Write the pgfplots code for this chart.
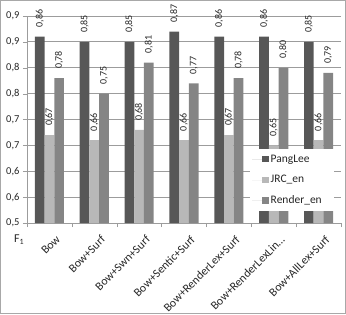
\documentclass[border=0pt]{standalone}
\usepackage{pgfplots}
\pgfplotsset{compat=1.18}
\usepackage{fontspec}
\setmainfont{Carlito}

\definecolor{pang}{HTML}{575757}
\definecolor{jrc}{HTML}{B8B8B8}
\definecolor{rend}{HTML}{858585}
\definecolor{gridc}{HTML}{9C9C9C}
\definecolor{framec}{HTML}{A8A8A8}
\definecolor{txt}{HTML}{262626}

\begin{document}
\begin{tikzpicture}[x=1pt,y=1pt]
\useasboundingbox (0,0) rectangle (346,314);
\draw[framec, line width=1pt] (0.5,0.5) rectangle (345.5,313.5);
\begin{axis}[
  at={(27pt,91pt)}, anchor=south west,
  scale only axis, width=314pt, height=207pt,
  ymin=0.5, ymax=0.9, xmin=-0.5, xmax=6.5,
  ybar=0pt, bar width=9.7pt,
  /pgf/number format/assume math mode=true,
  axis line style={gridc},
  axis x line*=bottom, axis y line*=left,
  ytick={0.5,0.55,0.6,0.65,0.7,0.75,0.8,0.85,0.9},
  yticklabels={{0,5},{0,6},{0,6},{0,7},{0,7},{0,8},{0,8},{0,9},{0,9}},
  ymajorgrids, grid style={gridc, line width=0.8pt},
  xtick={0,1,2,3,4,5,6},
  xticklabels={{Bow}, {Bow+Surf}, {Bow+Swn+Surf}, {Bow+Sentic+Surf}, {Bow+RenderLex+Surf}, {Bow+RenderLexLin…}, {Bow+AllLex+Surf}},
  minor xtick={-0.5,0.5,1.5,2.5,3.5,4.5,5.5,6.5},
  major x tick style={draw=none},
  minor x tick style={gridc},
  y tick style={gridc},
  tick align=outside,
  major tick length=4pt, minor tick length=4pt,
  xticklabel style={rotate=45, anchor=north east, inner sep=0pt, font=\fontsize{11.8}{14}\selectfont, text=txt, yshift=-9.5pt, xshift=-1pt},
  yticklabel style={font=\fontsize{10.5}{12}\selectfont, text=txt},
  nodes near coords={\pgfmathprintnumber[fixed, precision=2, fixed zerofill, use comma]{\pgfplotspointmeta}},
  every node near coord/.append style={yshift=9pt, rotate=90, anchor=west, inner sep=0pt, font=\fontsize{10}{12}\selectfont, text=txt},
  legend style={at={(0.7102,0.3575)}, anchor=north west, draw=none, fill=white,
    font=\fontsize{11.5}{13}\selectfont, text=txt,
    inner xsep=2pt, inner ysep=3pt, row sep=6.2pt, column sep=0pt,
    nodes={inner sep=2pt, text height=8pt, text depth=2.5pt}},
  legend cell align=left,
  legend image code/.code={\path (0pt,0pt) -- (16.5pt,0pt);
    \fill[#1] (10pt,-3pt) rectangle (16.5pt,3.5pt);},
  clip=false,
]
\addplot[fill=pang, draw=none] coordinates {(0,0.86) (1,0.85) (2,0.85) (3,0.87) (4,0.86) (5,0.86) (6,0.85)};
\addplot[fill=jrc, draw=none] coordinates {(0,0.67) (1,0.66) (2,0.68) (3,0.66) (4,0.67) (5,0.65) (6,0.66)};
\addplot[fill=rend, draw=none] coordinates {(0,0.78) (1,0.75) (2,0.81) (3,0.77) (4,0.78) (5,0.80) (6,0.79)};
\legend{\makebox[59.5pt][l]{PangLee}, \makebox[59.5pt][l]{JRC\_en}, \makebox[59.5pt][l]{Render\_en}}
\node[font=\fontsize{12}{14}\selectfont, text=txt] at (rel axis cs:-0.025,-0.08) {F\textsubscript{1}};
\end{axis}
\end{tikzpicture}
\end{document}
